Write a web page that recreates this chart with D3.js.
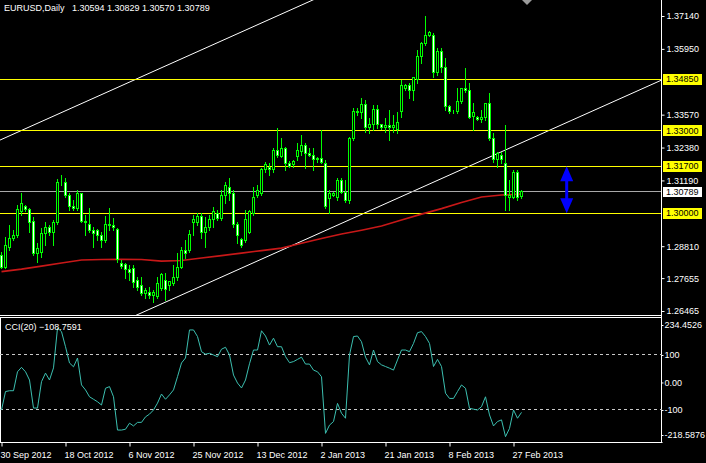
<!DOCTYPE html>
<html><head><meta charset="utf-8">
<script src="https://cdn.jsdelivr.net/npm/d3@7"></script>
<style>html,body{margin:0;padding:0;background:#000;overflow:hidden}svg{display:block}</style>
</head><body>
<svg id="chart" width="706" height="463"></svg>
<script>
const symbolName = "EURUSD,Daily";
const openPrices = [1.2849,1.2805,1.2878,1.2910,1.2921,1.3005,1.3023,1.3015,1.2972,1.2856,1.2860,1.2928,1.2947,1.2932,1.2965,1.3110,1.3110,1.3066,1.3023,1.3019,1.3070,1.2972,1.2961,1.2936,1.2936,1.2921,1.2903,1.2961,1.2957,1.2943,1.2820,1.2813,1.2795,1.2802,1.2758,1.2740,1.2711,1.2715,1.2704,1.2700,1.2729,1.2758,1.2740,1.2747,1.2766,1.2805,1.2867,1.2867,1.2965,1.2968,1.2987,1.2932,1.2950,1.2976,1.3001,1.2983,1.3066,1.3095,1.3070,1.2961,1.2907,1.2903,1.2932,1.3001,1.3066,1.3073,1.3157,1.3164,1.3157,1.3229,1.3207,1.3236,1.3182,1.3175,1.3204,1.3222,1.3247,1.3218,1.3211,1.3193,1.3200,1.3182,1.3055,1.3066,1.3059,1.3120,1.3077,1.3048,1.3272,1.3367,1.3363,1.3392,1.3309,1.3320,1.3374,1.3320,1.3309,1.3316,1.3309,1.3305,1.3367,1.3453,1.3464,1.3446,1.3486,1.3566,1.3616,1.3645,1.3645,1.3511,1.3584,1.3526,1.3385,1.3370,1.3367,1.3403,1.3453,1.3446,1.3352,1.3348,1.3341,1.3345,1.3396,1.3272,1.3193,1.3211,1.3182,1.3059,1.3059,1.3149,1.30594];
const highPrices = [1.2860,1.2914,1.2957,1.2939,1.3030,1.3073,1.3030,1.3019,1.2987,1.2892,1.2947,1.2968,1.2957,1.2976,1.3124,1.3139,1.3128,1.3073,1.3048,1.3084,1.3073,1.2994,1.3019,1.2950,1.2943,1.2932,1.2990,1.3019,1.2983,1.2947,1.2831,1.2820,1.2813,1.2813,1.2769,1.2769,1.2729,1.2733,1.2722,1.2769,1.2784,1.2784,1.2755,1.2813,1.2856,1.2878,1.2903,1.2939,1.2994,1.3001,1.3001,1.2987,1.2994,1.3023,1.3012,1.3084,1.3113,1.3128,1.3084,1.2968,1.2910,1.3012,1.3012,1.3095,1.3102,1.3164,1.3185,1.3182,1.3236,1.3309,1.3272,1.3240,1.3189,1.3193,1.3254,1.3283,1.3254,1.3236,1.3236,1.3204,1.3301,1.3193,1.3084,1.3077,1.3128,1.3128,1.3120,1.3276,1.3381,1.3381,1.3417,1.3410,1.3345,1.3392,1.3392,1.3323,1.3345,1.3374,1.3356,1.3367,1.3482,1.3468,1.3472,1.3493,1.3591,1.3620,1.3714,1.3660,1.3653,1.3598,1.3598,1.3562,1.3392,1.3374,1.3453,1.3453,1.3526,1.3472,1.3399,1.3352,1.3374,1.3399,1.3435,1.3290,1.3222,1.3222,1.3320,1.3120,1.3157,1.3157,1.30829];
const lowPrices = [1.2802,1.2802,1.2867,1.2903,1.2914,1.2994,1.3008,1.2932,1.2849,1.2824,1.2842,1.2885,1.2921,1.2885,1.2961,1.3102,1.3059,1.3012,1.3012,1.3012,1.2968,1.2921,1.2932,1.2878,1.2903,1.2878,1.2896,1.2939,1.2939,1.2824,1.2802,1.2766,1.2758,1.2733,1.2722,1.2704,1.2693,1.2693,1.2679,1.2693,1.2722,1.2686,1.2722,1.2740,1.2758,1.2802,1.2838,1.2860,1.2921,1.2957,1.2910,1.2878,1.2939,1.2950,1.2976,1.2976,1.3037,1.3048,1.2950,1.2892,1.2878,1.2896,1.2928,1.2994,1.3059,1.3066,1.3149,1.3139,1.3149,1.3204,1.3204,1.3157,1.3167,1.3167,1.3193,1.3211,1.3164,1.3207,1.3157,1.3185,1.3182,1.3019,1.3001,1.3062,1.3048,1.3073,1.3041,1.3037,1.3265,1.3356,1.3345,1.3294,1.3291,1.3301,1.3309,1.3305,1.3294,1.3265,1.3294,1.3291,1.3348,1.3446,1.3417,1.3410,1.3471,1.3544,1.3609,1.3642,1.3493,1.3500,1.3511,1.3374,1.3363,1.3363,1.3363,1.3399,1.3439,1.3345,1.3301,1.3338,1.3330,1.3338,1.3265,1.3185,1.3167,1.3182,1.3012,1.3012,1.3055,1.3048,1.30570];
const closePrices = [1.2805,1.2885,1.2910,1.2921,1.3012,1.3037,1.3012,1.2968,1.2856,1.2874,1.2928,1.2947,1.2932,1.2965,1.3110,1.3113,1.3066,1.3023,1.3019,1.3070,1.2972,1.2965,1.2936,1.2928,1.2921,1.2903,1.2961,1.2957,1.2947,1.2834,1.2809,1.2798,1.2787,1.2751,1.2733,1.2711,1.2719,1.2704,1.2715,1.2747,1.2777,1.2726,1.2755,1.2766,1.2805,1.2867,1.2856,1.2925,1.2976,1.2987,1.2932,1.2950,1.2976,1.3005,1.2983,1.3066,1.3102,1.3073,1.2961,1.2921,1.2885,1.2976,1.3005,1.3059,1.3084,1.3157,1.3175,1.3157,1.3229,1.3211,1.3236,1.3182,1.3171,1.3189,1.3229,1.3247,1.3218,1.3211,1.3193,1.3200,1.3185,1.3023,1.3073,1.3073,1.3120,1.3077,1.3048,1.3272,1.3367,1.3363,1.3392,1.3309,1.3320,1.3374,1.3320,1.3309,1.3316,1.3309,1.3316,1.3330,1.3464,1.3464,1.3446,1.3490,1.3566,1.3616,1.3645,1.3653,1.3508,1.3584,1.3526,1.3385,1.3370,1.3367,1.3403,1.3453,1.3443,1.3348,1.3363,1.3341,1.3348,1.3396,1.3272,1.3193,1.3218,1.3193,1.3066,1.3066,1.3149,1.3059,1.30789];
const cciValues = [-100,-33,-30,-30,39,55,39,9,-93,-93,3,34,9,53,198,185,130,71,57,89,-9,-27,-52,-61,-70,-82,-21,-15,-52,-173,-173,-170,-148,-158,-145,-145,-125,-115,-100,-75,-42,-61,-45,-27,21,71,89,191,191,167,112,103,106,100,94,121,128,100,27,-2,-20,9,68,118,118,188,169,136,161,130,130,94,72,76,84,92,67,67,45,39,21,-185,-155,-142,-76,-112,-130,100,167,169,148,92,64,118,76,64,58,52,45,82,118,118,112,142,181,185,167,142,58,84,58,-39,-58,-58,-33,-9,-21,-94,-97,-100,-88,-52,-118,-158,-142,-136,-197,-167,-100,-130,-108.7591];
const maBars = [0,5,10,15,20,25,30,35,40,45,50,55,60,65,70,75,80,85,90,95,100,105,110,115,120,125,130];
const maValues = [1.2789,1.2798,1.2809,1.2820,1.2831,1.2833,1.2834,1.2833,1.2827,1.2829,1.2838,1.2847,1.2856,1.2865,1.2874,1.2892,1.2909,1.2925,1.2939,1.2954,1.2976,1.2997,1.3017,1.3039,1.3059,1.3066,1.3070];
const timeTickBars = [0,16,32,48,64,80,96,112,128];
const timeTickLabels = ["30 Sep 2012","18 Oct 2012","6 Nov 2012","25 Nov 2012","13 Dec 2012","2 Jan 2013","21 Jan 2013","8 Feb 2013","27 Feb 2013"];
const priceTicks = [1.37140,1.35950,1.33570,1.32380,1.31190,1.28810,1.27655,1.26465];
const levelPrices = [1.34850,1.33000,1.31700,1.30000];
const priceMin = 1.26465, priceMax = 1.37140;
const cciMin = -218.5876, cciMax = 234.4526;
const cciLevels = [100,-100];
const cciTickValues = [234.4526,100,0,-100,-218.5876];
const cciTickLabels = ["234.4526","100","0.00","-100","-218.5876"];
const trendLower = [[33.8,1.2632],[165,1.3482]];
const trendUpper = [[-0.375,1.3265],[165,1.4337]];
const arrowBar = 141.3, arrowTop = 1.3170, arrowBottom = 1.3000;

const W = 706, H = 463, plotR = 662, mainBottom = 315, cciTop = 317.5, cciBottom = 443;
const FONT = "'Liberation Sans', Arial, sans-serif";
const svg = d3.select("#chart");
svg.append("rect").attr("width", W).attr("height", H).attr("fill", "#000");
const crisp = v => Math.round(v - 0.5) + 0.5;

const n = closePrices.length;
const x = d3.scaleLinear().domain([0, 130]).range([1.5, 521.5]);
const y = d3.scaleLinear().domain([priceMin, priceMax]).range([311, 16]);
const yc = d3.scaleLinear().domain([cciMin, cciMax]).range([442.6, 318]);

const defs = svg.append("defs");
defs.append("clipPath").attr("id", "clipMain").append("rect").attr("x", 0).attr("y", 0).attr("width", plotR).attr("height", mainBottom);
defs.append("clipPath").attr("id", "clipCci").append("rect").attr("x", 0).attr("y", cciTop).attr("width", plotR).attr("height", cciBottom - cciTop);

const gMain = svg.append("g").attr("clip-path", "url(#clipMain)");

// trend lines (white)
[trendUpper, trendLower].forEach(t => {
  const slope = (t[1][1] - t[0][1]) / (t[1][0] - t[0][0]);
  const b0 = -5, b1 = 175;
  gMain.append("line")
    .attr("x1", x(b0)).attr("y1", y(t[0][1] + slope * (b0 - t[0][0])))
    .attr("x2", x(b1)).attr("y2", y(t[0][1] + slope * (b1 - t[0][0])))
    .attr("stroke", "#fff").attr("stroke-width", 1);
});

// horizontal level lines
levelPrices.forEach(p => {
  gMain.append("line").attr("x1", 0).attr("x2", plotR).attr("y1", crisp(y(p))).attr("y2", crisp(y(p)))
    .attr("stroke", "#ffff00").attr("stroke-width", 1);
});
const bid = closePrices[n - 1];
gMain.append("line").attr("x1", 0).attr("x2", plotR).attr("y1", crisp(y(bid))).attr("y2", crisp(y(bid)))
  .attr("stroke", "#a8a8a8").attr("stroke-width", 1);

// moving average
gMain.append("path")
  .datum(maBars.map((b, i) => [b, maValues[i]]))
  .attr("fill", "none").attr("stroke", "#c81818").attr("stroke-width", 1.6)
  .attr("d", d3.line().x(d => x(d[0])).y(d => y(d[1])));

// candles
const candles = gMain.append("g");
d3.range(n).forEach(i => {
  const cx = x(i);
  candles.append("line").attr("x1", cx).attr("x2", cx)
    .attr("y1", Math.round(y(highPrices[i]))).attr("y2", Math.round(y(lowPrices[i])) + 1)
    .attr("stroke", "#00ff00").attr("stroke-width", 1);
  const yo = y(openPrices[i]), ycl = y(closePrices[i]);
  const top = crisp(Math.min(yo, ycl)), bot = crisp(Math.max(yo, ycl));
  candles.append("rect").attr("x", cx - 1).attr("y", top).attr("width", 2).attr("height", Math.max(0, bot - top))
    .attr("fill", closePrices[i] >= openPrices[i] ? "#000" : "#fff")
    .attr("stroke", "#00ff00").attr("stroke-width", 1);
});

// blue double arrow
const ax = x(arrowBar), at = y(arrowTop), ab = y(arrowBottom);
const hw = 6.5, hh = 15, sw = 1.5;
svg.append("path").attr("fill", "#0000ff")
  .attr("d", `M${ax},${at} L${ax + hw},${at + hh} L${ax + sw},${at + hh} L${ax + sw},${ab - hh} L${ax + hw},${ab - hh} L${ax},${ab} L${ax - hw},${ab - hh} L${ax - sw},${ab - hh} L${ax - sw},${at + hh} L${ax - hw},${at + hh} Z`);

// chart shift marker
svg.append("path").attr("d", "M522,0 L532,0 L527,5 Z").attr("fill", "#9a9a9a");

// header
svg.append("text").attr("x", 4).attr("y", 11).attr("fill", "#fff")
  .style("font", `9px ${FONT}`).style("white-space", "pre")
  .text(`${symbolName}   ${[openPrices[n-1], highPrices[n-1], lowPrices[n-1], closePrices[n-1]].map(d3.format(".5f")).join(" ")}`);

// separators and frames
const frame = svg.append("g").attr("stroke", "#fff").attr("stroke-width", 1);
frame.append("line").attr("x1", 0).attr("x2", plotR).attr("y1", 315.5).attr("y2", 315.5);
frame.append("line").attr("x1", 0).attr("x2", plotR).attr("y1", cciTop).attr("y2", cciTop);
frame.append("line").attr("x1", 0).attr("x2", plotR + 0.5).attr("y1", cciBottom - 0.5).attr("y2", cciBottom - 0.5);
frame.append("line").attr("x1", plotR - 0.5).attr("x2", plotR - 0.5).attr("y1", 0).attr("y2", cciBottom);
frame.append("line").attr("x1", 0.5).attr("x2", 0.5).attr("y1", cciTop).attr("y2", cciBottom);

// price axis
const priceAxis = d3.axisRight(y).tickValues(priceTicks).tickSize(3).tickPadding(2).tickFormat(d3.format(".5f"));
const gPA = svg.append("g").attr("transform", `translate(${plotR - 0.5},0)`).call(priceAxis);
gPA.select(".domain").remove();
gPA.selectAll("line").attr("stroke", "#fff");
gPA.selectAll("text").attr("fill", "#fff").style("font", `9px ${FONT}`);

// level labels
levelPrices.forEach(p => {
  const cy = y(p);
  svg.append("rect").attr("x", 663).attr("y", Math.round(cy) - 5).attr("width", 39).attr("height", 11).attr("fill", "#ffff00");
  svg.append("text").attr("x", 666).attr("y", cy).attr("dy", "0.35em").attr("fill", "#000")
    .style("font", `9px ${FONT}`).text(d3.format(".5f")(p));
});
{
  const cy = y(bid);
  svg.append("rect").attr("x", 663).attr("y", Math.round(cy) - 5).attr("width", 39).attr("height", 10).attr("fill", "#fff");
  svg.append("text").attr("x", 666).attr("y", cy).attr("dy", "0.35em").attr("fill", "#000")
    .style("font", `9px ${FONT}`).text(d3.format(".5f")(bid));
}

// CCI panel
const gC = svg.append("g").attr("clip-path", "url(#clipCci)");
cciLevels.forEach(v => {
  gC.append("line").attr("x1", 0).attr("x2", plotR).attr("y1", crisp(yc(v))).attr("y2", crisp(yc(v)))
    .attr("stroke", "#c8c8c8").attr("stroke-width", 1).attr("stroke-dasharray", "3,3");
});
gC.append("path").datum(cciValues).attr("fill", "none").attr("stroke", "#3cbfb0").attr("stroke-width", 1)
  .attr("d", d3.line().x((d, i) => x(i)).y(d => yc(d)));
svg.append("text").attr("x", 5).attr("y", 330).attr("fill", "#fff").style("font", `9px ${FONT}`)
  .text(`CCI(20) ${d3.format(".4f")(cciValues[n - 1])}`);

const cciAxis = d3.axisRight(yc).tickValues(cciTickValues).tickSize(2).tickPadding(1)
  .tickFormat((d, i) => cciTickLabels[i]);
const gCA = svg.append("g").attr("transform", `translate(${plotR - 0.5},0)`).call(cciAxis);
gCA.select(".domain").remove();
gCA.selectAll("line").attr("stroke", "#fff");
gCA.selectAll("text").attr("fill", "#fff").style("font", `9px ${FONT}`);
gCA.selectAll(".tick").filter((d, i) => i === 0).attr("transform", "translate(0,325.5)");
gCA.selectAll(".tick").filter((d, i) => i === 4).attr("transform", "translate(0,435.5)");

// time axis
const timeAxis = d3.axisBottom(x).tickValues(timeTickBars).tickSize(4).tickPadding(5)
  .tickFormat((d, i) => timeTickLabels[i]);
const gTA = svg.append("g").attr("transform", `translate(0,${cciBottom - 0.5})`).call(timeAxis);
gTA.select(".domain").remove();
gTA.selectAll("line").attr("stroke", "#fff");
gTA.selectAll("text").attr("fill", "#fff").attr("text-anchor", "start").attr("x", -1.5)
  .style("font", `9px ${FONT}`);
</script>
</body></html>
